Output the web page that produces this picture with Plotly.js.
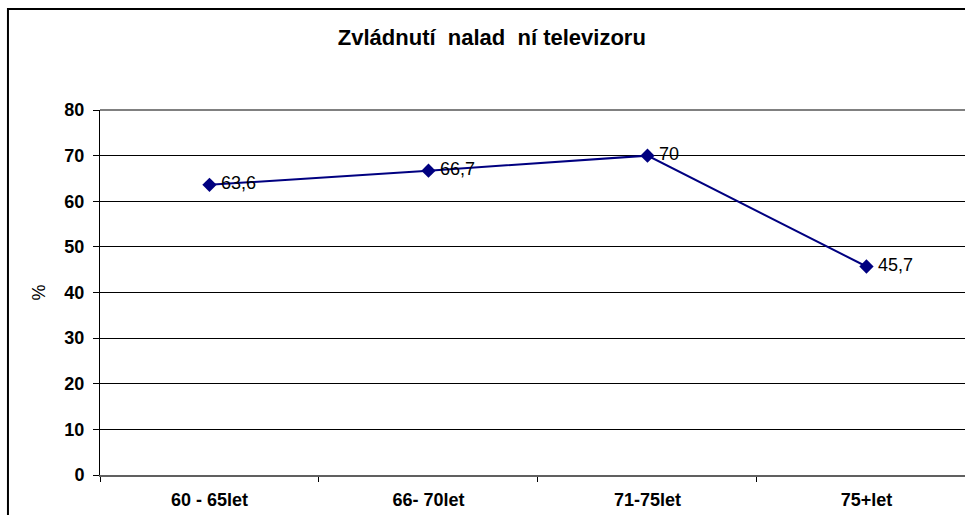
<!DOCTYPE html>
<html>
<head>
<meta charset="utf-8">
<script src="https://cdn.plot.ly/plotly-3.0.1.min.js"></script>
<style>
html,body{margin:0;padding:0;background:#fff;overflow:hidden;}
#chart{width:965px;height:515px;}
</style>
</head>
<body>
<div id="chart"></div>
<script>
const categories = ["60 - 65let", "66- 70let", "71-75let", "75+let"];
const values = [63.6, 66.7, 70, 45.7];
const valueLabels = ["63,6", "66,7", "70", "45,7"];
const yTicks = [0, 10, 20, 30, 40, 50, 60, 70, 80];
const titleText = "Zvládnutí  nalad  ní televizoru";
const yTitle = "%";

const FONT = "Liberation Sans, Arial, sans-serif";

const trace = {
  type: "scatter",
  mode: "lines+markers+text",
  x: categories,
  y: values,
  text: valueLabels.map(s => "\u2009" + s),
  textposition: "middle right",
  textfont: {family: FONT, size: 18, color: "#000"},
  line: {color: "#000080", width: 2},
  marker: {symbol: "diamond", size: 11, color: "#000080"},
  cliponaxis: false,
  hoverinfo: "skip"
};

const layout = {
  width: 965,
  height: 515,
  margin: {l: 100, r: 0, t: 110, b: 40, pad: 0},
  paper_bgcolor: "#fff",
  plot_bgcolor: "#fff",
  showlegend: false,
  title: {
    text: "<b>" + titleText + "</b>",
    font: {family: FONT, size: 22, color: "#000"},
    x: 0.453, xref: "paper", xanchor: "center",
    y: 0.928, yanchor: "middle"
  },
  xaxis: {
    type: "category",
    range: [-0.5, 3.45],
    tickson: "boundaries",
    ticks: "outside",
    ticklen: 5,
    tickcolor: "#000",
    ticklabelstandoff: 7,
    showgrid: false,
    showline: true,
    linecolor: "#606060",
    linewidth: 2,
    tickfont: {family: FONT, size: 18, color: "#000", weight: "bold"},
    tickangle: 0,
    fixedrange: true
  },
  yaxis: {
    range: [0, 80],
    tickvals: yTicks,
    ticktext: yTicks.map(v => "<b>" + v + "</b>"),
    ticks: "outside",
    ticklen: 6,
    tickcolor: "#000",
    ticklabelstandoff: 5,
    showgrid: true,
    gridcolor: "#000",
    gridwidth: 1,
    showline: true,
    linecolor: "#000",
    linewidth: 1,
    zeroline: false,
    tickfont: {family: FONT, size: 18, color: "#000"},
    title: {text: yTitle, font: {family: FONT, size: 18, color: "#000"}, standoff: 14},
    fixedrange: true
  },
  shapes: [
    {
      type: "rect", xref: "paper", yref: "paper",
      x0: -0.1064, x1: 1.05, y0: -0.2, y1: 1.2767,
      line: {color: "#000", width: 2}, fillcolor: "rgba(0,0,0,0)", layer: "above"
    },
    {
      type: "line", xref: "paper", yref: "paper",
      x0: 0, x1: 1, y0: 1, y1: 1,
      line: {color: "#808080", width: 2}, layer: "below"
    }
  ]
};

Plotly.newPlot("chart", [trace], layout, {displayModeBar: false, staticPlot: true});
</script>
</body>
</html>
